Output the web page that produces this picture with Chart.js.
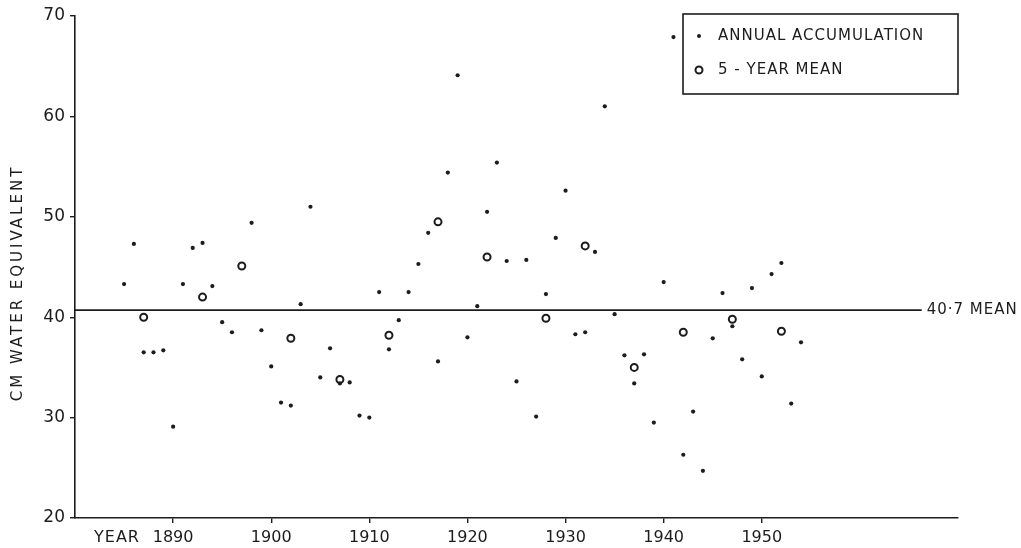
<!DOCTYPE html>
<html>
<head>
<meta charset="utf-8">
<title>Annual accumulation</title>
<script src="https://cdn.jsdelivr.net/npm/chart.js@4.4.0/dist/chart.umd.min.js"></script>
<style>
  html, body { margin: 0; padding: 0; background: #fff; }
  #wrap { width: 1021px; height: 548px; }
</style>
</head>
<body>
<div id="wrap"><canvas id="accumChart" width="1021" height="548"></canvas></div>
<script>
// annual accumulation, cm water equivalent (1897 not plotted)
const annualYears = [
  1885, 1886, 1887, 1888, 1889, 1890, 1891, 1892, 1893, 1894,
  1895, 1896, 1897, 1898, 1899, 1900, 1901, 1902, 1903, 1904,
  1905, 1906, 1907, 1908, 1909, 1910, 1911, 1912, 1913, 1914,
  1915, 1916, 1917, 1918, 1919, 1920, 1921, 1922, 1923, 1924,
  1925, 1926, 1927, 1928, 1929, 1930, 1931, 1932, 1933, 1934,
  1935, 1936, 1937, 1938, 1939, 1940, 1941, 1942, 1943, 1944,
  1945, 1946, 1947, 1948, 1949, 1950, 1951, 1952, 1953, 1954
];
const annualValues = [
  43.3, 47.3, 36.5, 36.5, 36.7, 29.1, 43.3, 46.9, 47.4, 43.1,
  39.5, 38.5, null, 49.4, 38.7, 35.1, 31.5, 31.2, 41.3, 51.0,
  34.0, 36.9, 33.4, 33.5, 30.2, 30.0, 42.5, 36.8, 39.7, 42.5,
  45.3, 48.4, 35.6, 54.4, 64.1, 38.0, 41.1, 50.5, 55.4, 45.6,
  33.6, 45.7, 30.1, 42.3, 47.9, 52.6, 38.3, 38.5, 46.5, 61.0,
  40.3, 36.2, 33.4, 36.3, 29.5, 43.5, 67.9, 26.3, 30.6, 24.7,
  37.9, 42.4, 39.1, 35.8, 42.9, 34.1, 44.3, 45.4, 31.4, 37.5
];

// 5-year means, as plotted
const meanYears = [1887, 1893, 1897, 1902, 1907, 1912, 1917, 1922, 1928, 1932, 1937, 1942, 1947, 1952];
const meanValues = [40.0, 42.0, 45.1, 37.9, 33.8, 38.2, 49.5, 46.0, 39.9, 47.1, 35.0, 38.5, 39.8, 38.6];

const overallMean = 40.7;
const meanLineYears = [1880, 1966.3];

const xTickYears = [1890, 1900, 1910, 1920, 1930, 1940, 1950];
const yTickValues = [20, 30, 40, 50, 60, 70];

const INK = '#1c1c1c';
const FONT = "'DejaVu Sans', sans-serif";

function toPoints(xs, ys) {
  const pts = [];
  xs.forEach((x, i) => {
    if (ys[i] !== null && ys[i] !== undefined) pts.push({ x: x, y: ys[i] });
  });
  return pts;
}

// labels, mean label, legend box and axis title
const extrasPlugin = {
  id: 'extras',
  beforeDraw(chart) {
    const ctx = chart.ctx;
    ctx.save();
    ctx.fillStyle = '#ffffff';
    ctx.fillRect(0, 0, chart.width, chart.height);
    ctx.restore();
  },
  afterDraw(chart) {
    const ctx = chart.ctx;
    const xs = chart.scales.x;
    const ys = chart.scales.y;
    ctx.save();
    ctx.fillStyle = INK;
    ctx.strokeStyle = INK;
    ctx.font = '15px ' + FONT;
    ctx.letterSpacing = '1px';
    ctx.textBaseline = 'middle';

    // YEAR in front of tick labels
    ctx.textAlign = 'center';
    ctx.font = '16px ' + FONT;
    ctx.fillText('YEAR', 117, 538);

    // mean label
    ctx.font = '15px ' + FONT;
    ctx.textAlign = 'left';
    const my = ys.getPixelForValue(overallMean);
    ctx.fillText('40\u00B77 MEAN', xs.getPixelForValue(meanLineYears[1]) + 5, my);

    // y title
    ctx.save();
    ctx.translate(18, 283);
    ctx.rotate(-Math.PI / 2);
    ctx.textAlign = 'center';
    ctx.font = '15px ' + FONT;
    ctx.letterSpacing = '3px';
    ctx.fillText('CM WATER EQUIVALENT', 0, 0);
    ctx.restore();

    // legend box
    ctx.lineWidth = 1.6;
    ctx.strokeRect(683, 14, 275, 80);
    ctx.beginPath();
    ctx.arc(699, 36, 2, 0, Math.PI * 2);
    ctx.fill();
    ctx.beginPath();
    ctx.lineWidth = 2;
    ctx.arc(699, 70, 3.5, 0, Math.PI * 2);
    ctx.stroke();
    ctx.fillText('ANNUAL ACCUMULATION', 718, 36);
    ctx.fillText('5 - YEAR MEAN', 718, 70);
    ctx.restore();
  }
};

function createChart() {
  const ctx = document.getElementById('accumChart').getContext('2d');

  return new Chart(ctx, {
    type: 'scatter',
    data: {
      datasets: [
        {
          label: 'ANNUAL ACCUMULATION',
          data: toPoints(annualYears, annualValues),
          pointRadius: 2.1,
          pointBorderWidth: 0,
          backgroundColor: INK,
          borderColor: INK
        },
        {
          label: '5 - YEAR MEAN',
          data: toPoints(meanYears, meanValues),
          pointRadius: 3.5,
          pointBorderWidth: 2,
          backgroundColor: 'rgba(255,255,255,0)',
          borderColor: INK
        },
        {
          type: 'line',
          label: 'MEAN',
          data: toPoints(meanLineYears, [overallMean, overallMean]),
          borderColor: INK,
          borderWidth: 1.8,
          pointRadius: 0,
          fill: false
        }
      ]
    },
    options: {
      responsive: false,
      animation: false,
      devicePixelRatio: 1,
      layout: {
        padding: { top: 16, right: 63, left: 0, bottom: 0 }
      },
      scales: {
        x: {
          type: 'linear',
          min: 1880,
          max: 1970,
          afterBuildTicks: scale => {
            scale.ticks = xTickYears.map(v => ({ value: v }));
          },
          afterFit: scale => { scale.height = 30; },
          ticks: {
            color: INK,
            padding: 5,
            font: { family: FONT, size: 16 },
            callback: value => String(value)
          },
          grid: {
            drawOnChartArea: false,
            tickLength: 5,
            color: INK,
            lineWidth: 1.4
          },
          border: { display: true, color: INK, width: 1.6 }
        },
        y: {
          min: 20,
          max: 70,
          afterBuildTicks: scale => {
            scale.ticks = yTickValues.map(v => ({ value: v }));
          },
          afterFit: scale => { scale.width = 75; },
          ticks: {
            color: INK,
            padding: 5,
            font: { family: FONT, size: 17 },
            callback: value => String(value)
          },
          grid: {
            drawOnChartArea: false,
            tickLength: 5,
            color: INK,
            lineWidth: 1.4
          },
          border: { display: true, color: INK, width: 1.6 }
        }
      },
      plugins: {
        legend: { display: false },
        tooltip: { enabled: false }
      }
    },
    plugins: [extrasPlugin]
  });
}

document.addEventListener('DOMContentLoaded', function() {
  createChart();
});
</script>
</body>
</html>
